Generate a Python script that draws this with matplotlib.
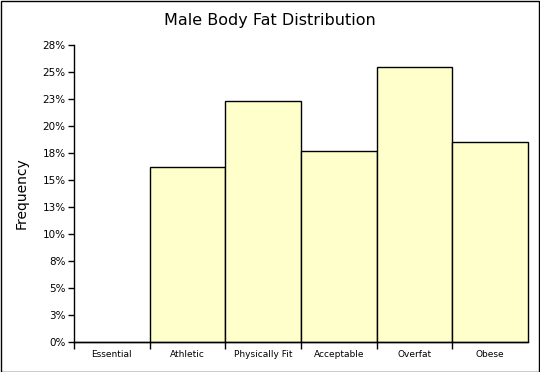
import matplotlib
matplotlib.use('Agg')
import matplotlib.pyplot as plt
from matplotlib.patches import Rectangle
from matplotlib.ticker import FuncFormatter, MultipleLocator

# Values (percent of sample)
CATEGORIES = ['Essential', 'Athletic', 'Physically Fit', 'Acceptable', 'Overfat', 'Obese']
FREQ = [0.0, 16.2, 22.3, 17.65, 25.45, 18.5]
Y_MAX = 27.5
Y_STEP = 2.5


def excel_pct(v, pos):
    '''
    Excel rounds half up, so 2.5 shows as 3%
    '''
    return f"{int(v + 0.5)}%"


def main():
    fig = plt.figure(figsize=(5.4, 3.72), dpi=100)
    ax = fig.add_axes([0.137, 0.081, 0.841, 0.798])

    x = range(len(CATEGORIES))
    bars = ax.bar(x, FREQ, width=1.0, color='#FFFFCC', edgecolor='black', linewidth=1.0)
    for b in bars:
        b.set_clip_on(False)

    ax.set_xlim(-0.5, len(CATEGORIES) - 0.5)
    ax.set_ylim(0, Y_MAX)
    ax.yaxis.set_major_locator(MultipleLocator(Y_STEP))
    ax.yaxis.set_major_formatter(FuncFormatter(excel_pct))

    # category labels in the middle, ticks on the bin edges
    ax.set_xticks(list(x))
    ax.set_xticklabels(CATEGORIES, fontsize=6.5)
    ax.tick_params(axis='x', length=0, pad=6)
    ax.set_xticks([i - 0.5 for i in range(len(CATEGORIES))], minor=True)
    ax.tick_params(axis='x', which='minor', length=5, width=1, direction='out')
    ax.tick_params(axis='y', length=4, width=1, labelsize=7.5, pad=2)

    for side in ['top', 'right']:
        ax.spines[side].set_visible(False)
    ax.spines['left'].set_linewidth(1)
    ax.spines['bottom'].set_linewidth(1)

    ax.set_ylabel('Frequency', fontsize=10, labelpad=10)
    fig.text(0.5, 0.945, 'Male Body Fat Distribution', ha='center', va='center', fontsize=11.5)

    # outer chart border
    fig.patches.append(Rectangle((0.001, 0.001), 0.997, 0.996, transform=fig.transFigure,
                                 fill=False, edgecolor='black', linewidth=1.0))

    plt.savefig('out.png', dpi=100)


if __name__ == "__main__":
    main()
